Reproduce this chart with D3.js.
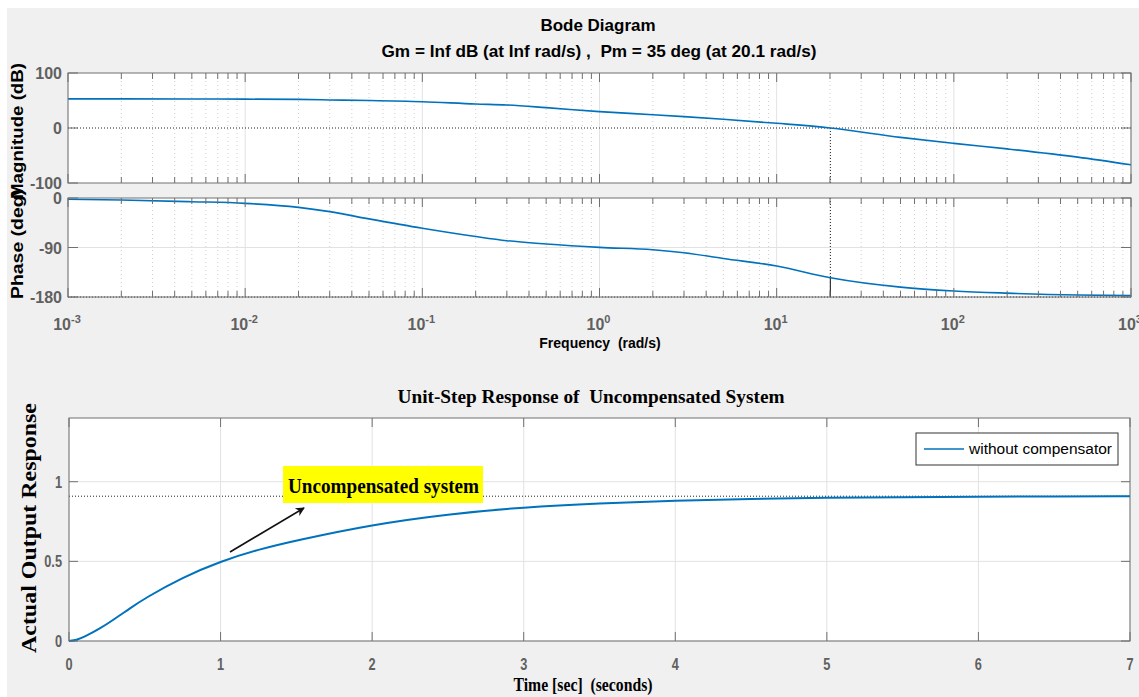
<!DOCTYPE html>
<html>
<head>
<meta charset="utf-8">
<script src="https://d3js.org/d3.v7.min.js"></script>
<style>
  body { margin: 0; background: #fff; }
  text { font-family: "Liberation Sans", Arial, sans-serif; }
  .serif { font-family: "Liberation Serif", "Times New Roman", serif; font-weight: bold; }
</style>
</head>
<body>
<script>
/* jshint esversion:6 */

// ---- data ----
const bodeFreq  = [0.001, 0.002, 0.005, 0.01, 0.02, 0.03, 0.05, 0.1, 0.2, 0.3, 0.5, 1, 2, 3, 5, 10, 20.1, 50, 100, 200, 500, 1000];
const bodeMag   = [53, 53, 52.8, 52.5, 52, 51, 50, 47.8, 43.6, 41.8, 37, 29.7, 24.2, 20.6, 15.8, 8.5, 0, -17, -27.9, -38, -53, -67];
const bodePhase = [-2.4, -3.6, -6.7, -9.7, -17, -24.8, -38, -55, -70, -77.6, -83.6, -89.7, -94, -99.4, -110, -123.6, -145, -162, -169, -173, -176.5, -177.5];
const freqDecades = [1e-3, 1e-2, 1e-1, 1, 10, 100, 1000];
const decadeLabels = ["-3", "-2", "-1", "0", "1", "2", "3"];
const magTicks = [-100, 0, 100];
const phaseTicks = [-180, -90, 0];
const pmFreq = 20.1;
const pmPhase = -145;

const stepTime   = [0, 0.05, 0.1, 0.2, 0.3, 0.4, 0.5, 0.75, 1, 1.25, 1.5, 2, 2.5, 3, 3.5, 4, 4.5, 5, 5.5, 6, 6.5, 7];
const stepOutput = [0, 0.006, 0.025, 0.075, 0.137, 0.204, 0.268, 0.4, 0.5, 0.575, 0.632, 0.731, 0.797, 0.84, 0.865, 0.882, 0.893, 0.899, 0.903, 0.906, 0.908, 0.909];
const stepXTicks = [0, 1, 2, 3, 4, 5, 6, 7];
const stepYTicks = [0, 0.5, 1];
const steadyState = 0.909;

const styles = {
  line: "#0072bd",
  box: "#707070",
  tickText: "#606060",
  grid: "#e2e2e2",
  minorGrid: "#cfcfcf",
  bg: "#f0f0f0"
};

const svg = d3.select("body").append("svg")
  .attr("width", 1139)
  .attr("height", 697);

svg.append("rect").attr("width", 1139).attr("height", 697).attr("fill", "#fff");
svg.append("rect").attr("x", 7).attr("y", 8).attr("width", 1132).attr("height", 689).attr("fill", styles.bg);

// ---- Bode ----
const x = d3.scaleLog().domain([1e-3, 1e3]).range([68, 1131]);
const yMag = d3.scaleLinear().domain([-100, 100]).range([183, 73]);
const yPhase = d3.scaleLinear().domain([-180, 0]).range([297, 198]);

const minorFreq = [];
freqDecades.slice(0, -1).forEach(function(d) {
  for (let k = 2; k <= 9; k++) minorFreq.push(d * k);
});

function drawBodeAxes(yScale, ticks, gridTicks) {
  const g = svg.append("g");
  const [y0, y1] = yScale.range();
  g.append("rect")
    .attr("x", x.range()[0]).attr("y", y1)
    .attr("width", x.range()[1] - x.range()[0]).attr("height", y0 - y1)
    .attr("fill", "#fff");

  g.selectAll(".minorGrid").data(minorFreq).enter().append("line")
    .attr("x1", d => x(d)).attr("x2", d => x(d))
    .attr("y1", y1).attr("y2", y0)
    .attr("stroke", styles.minorGrid).attr("stroke-dasharray", "1,3");

  g.selectAll(".majorGrid").data(freqDecades).enter().append("line")
    .attr("x1", d => x(d)).attr("x2", d => x(d))
    .attr("y1", y1).attr("y2", y0)
    .attr("stroke", styles.grid);

  g.selectAll(".hGrid").data(gridTicks).enter().append("line")
    .attr("x1", x.range()[0]).attr("x2", x.range()[1])
    .attr("y1", d => yScale(d)).attr("y2", d => yScale(d))
    .attr("stroke", styles.grid);

  return g;
}

function drawBodeFrame(g, yScale, ticks) {
  const [y0, y1] = yScale.range();
  const [xa, xb] = x.range();
  const tickData = minorFreq.map(d => ({f: d, len: 6})).concat(freqDecades.map(d => ({f: d, len: 9})));
  [y0, y1].forEach(function(yy, i) {
    g.selectAll(".xt" + i).data(tickData).enter().append("line")
      .attr("x1", d => x(d.f)).attr("x2", d => x(d.f))
      .attr("y1", yy).attr("y2", d => i === 0 ? yy - d.len : yy + d.len)
      .attr("stroke", styles.box);
  });
  [xa, xb].forEach(function(xx, i) {
    g.selectAll(".yt" + i).data(ticks).enter().append("line")
      .attr("x1", xx).attr("x2", i === 0 ? xx + 10 : xx - 10)
      .attr("y1", d => yScale(d)).attr("y2", d => yScale(d))
      .attr("stroke", styles.box);
  });
  g.append("rect")
    .attr("x", xa).attr("y", y1)
    .attr("width", xb - xa).attr("height", y0 - y1)
    .attr("fill", "none").attr("stroke", styles.box);

  g.selectAll(".ylab").data(ticks).enter().append("text")
    .attr("x", xa - 6).attr("y", d => yScale(d) + 6)
    .attr("text-anchor", "end")
    .attr("font-size", 16).attr("font-weight", "bold")
    .attr("fill", styles.tickText)
    .text(d => d);
}

// magnitude
const gMag = drawBodeAxes(yMag, magTicks, []);
gMag.append("line")
  .attr("x1", x.range()[0]).attr("x2", x.range()[1])
  .attr("y1", yMag(0)).attr("y2", yMag(0))
  .attr("stroke", "#222").attr("stroke-dasharray", "1,2");
gMag.append("line")
  .attr("x1", x(pmFreq)).attr("x2", x(pmFreq))
  .attr("y1", yMag(0)).attr("y2", yMag(-100))
  .attr("stroke", "#222").attr("stroke-dasharray", "1,2");
gMag.append("path")
  .datum(d3.zip(bodeFreq, bodeMag))
  .attr("fill", "none").attr("stroke", styles.line).attr("stroke-width", 1.6)
  .attr("d", d3.line().x(d => x(d[0])).y(d => yMag(d[1])).curve(d3.curveMonotoneX));
drawBodeFrame(gMag, yMag, magTicks);

// phase
const gPh = drawBodeAxes(yPhase, phaseTicks, [-90]);
gPh.append("line")
  .attr("x1", x.range()[0]).attr("x2", x.range()[1])
  .attr("y1", yPhase(-180)).attr("y2", yPhase(-180))
  .attr("stroke", "#222").attr("stroke-dasharray", "1,2");
gPh.append("line")
  .attr("x1", x(pmFreq)).attr("x2", x(pmFreq))
  .attr("y1", yPhase(0)).attr("y2", yPhase(pmPhase))
  .attr("stroke", "#222").attr("stroke-dasharray", "1,2");
gPh.append("line")
  .attr("x1", x(pmFreq)).attr("x2", x(pmFreq))
  .attr("y1", yPhase(pmPhase)).attr("y2", yPhase(-180))
  .attr("stroke", "#333").attr("stroke-width", 1.2);
gPh.append("path")
  .datum(d3.zip(bodeFreq, bodePhase))
  .attr("fill", "none").attr("stroke", styles.line).attr("stroke-width", 1.6)
  .attr("d", d3.line().x(d => x(d[0])).y(d => yPhase(d[1])).curve(d3.curveMonotoneX));
drawBodeFrame(gPh, yPhase, phaseTicks);

// decade labels
const decLab = svg.selectAll(".dec").data(freqDecades).enter().append("text")
  .attr("x", d => x(d) - 1)
  .attr("y", 330)
  .attr("text-anchor", "middle")
  .attr("font-size", 16).attr("font-weight", "bold")
  .attr("fill", styles.tickText);
decLab.append("tspan").text("10");
decLab.append("tspan")
  .attr("dy", -7).attr("font-size", 11)
  .text((d, i) => decadeLabels[i]);

svg.append("text")
  .attr("x", 600).attr("y", 348)
  .attr("text-anchor", "middle")
  .attr("font-size", 14).attr("font-weight", "bold")
  .attr("xml:space", "preserve")
  .text("Frequency  (rad/s)");

svg.append("text")
  .attr("transform", "translate(23,244) rotate(-90)")
  .attr("text-anchor", "middle")
  .attr("font-size", 16).attr("font-weight", "bold")
  .attr("textLength", 110).attr("lengthAdjust", "spacingAndGlyphs")
  .text("Phase (deg)");
svg.append("text")
  .attr("transform", "translate(23,131) rotate(-90)")
  .attr("text-anchor", "middle")
  .attr("font-size", 16).attr("font-weight", "bold")
  .attr("textLength", 136).attr("lengthAdjust", "spacingAndGlyphs")
  .text("Magnitude (dB)");

svg.append("text")
  .attr("x", 598).attr("y", 31)
  .attr("text-anchor", "middle")
  .attr("font-size", 17).attr("font-weight", "bold")
  .attr("textLength", 115).attr("lengthAdjust", "spacingAndGlyphs")
  .text("Bode Diagram");
svg.append("text")
  .attr("x", 599).attr("y", 57)
  .attr("text-anchor", "middle")
  .attr("font-size", 17).attr("font-weight", "bold")
  .attr("xml:space", "preserve")
  .attr("textLength", 435).attr("lengthAdjust", "spacingAndGlyphs")
  .text("Gm = Inf dB (at Inf rad/s) ,  Pm = 35 deg (at 20.1 rad/s)");

// ---- step response ----
const xs = d3.scaleLinear().domain([0, 7]).range([69, 1130]);
const ys = d3.scaleLinear().domain([0, 1.4]).range([641, 418]);

const gs = svg.append("g");
gs.append("rect")
  .attr("x", xs(0)).attr("y", ys(1.4))
  .attr("width", xs(7) - xs(0)).attr("height", ys(0) - ys(1.4))
  .attr("fill", "#fff");
gs.selectAll(".vg").data(stepXTicks).enter().append("line")
  .attr("x1", d => xs(d)).attr("x2", d => xs(d))
  .attr("y1", ys(1.4)).attr("y2", ys(0))
  .attr("stroke", styles.grid);
gs.selectAll(".hg").data(stepYTicks).enter().append("line")
  .attr("x1", xs(0)).attr("x2", xs(7))
  .attr("y1", d => ys(d)).attr("y2", d => ys(d))
  .attr("stroke", styles.grid);
gs.selectAll(".bt").data(stepXTicks).enter().append("line")
  .attr("x1", d => xs(d)).attr("x2", d => xs(d))
  .attr("y1", ys(0)).attr("y2", ys(0) - 9)
  .attr("stroke", styles.box);
gs.selectAll(".tt").data(stepXTicks).enter().append("line")
  .attr("x1", d => xs(d)).attr("x2", d => xs(d))
  .attr("y1", ys(1.4)).attr("y2", ys(1.4) + 9)
  .attr("stroke", styles.box);
gs.selectAll(".lt").data(stepYTicks).enter().append("line")
  .attr("x1", xs(0)).attr("x2", xs(0) + 9)
  .attr("y1", d => ys(d)).attr("y2", d => ys(d))
  .attr("stroke", styles.box);
gs.selectAll(".rt").data(stepYTicks).enter().append("line")
  .attr("x1", xs(7)).attr("x2", xs(7) - 9)
  .attr("y1", d => ys(d)).attr("y2", d => ys(d))
  .attr("stroke", styles.box);

gs.append("line")
  .attr("x1", xs(0)).attr("x2", xs(7))
  .attr("y1", ys(steadyState)).attr("y2", ys(steadyState))
  .attr("stroke", "#222").attr("stroke-dasharray", "1,2");

gs.append("path")
  .datum(d3.zip(stepTime, stepOutput))
  .attr("fill", "none").attr("stroke", styles.line).attr("stroke-width", 2)
  .attr("d", d3.line().x(d => xs(d[0])).y(d => ys(d[1])).curve(d3.curveBasis));

gs.append("rect")
  .attr("x", xs(0)).attr("y", ys(1.4))
  .attr("width", xs(7) - xs(0)).attr("height", ys(0) - ys(1.4))
  .attr("fill", "none").attr("stroke", styles.box);

gs.selectAll(".xl").data(stepXTicks).enter().append("text")
  .attr("x", d => xs(d)).attr("y", 670)
  .attr("text-anchor", "middle")
  .attr("font-size", 17).attr("font-weight", "bold")
  .attr("fill", styles.tickText)
  .attr("transform", d => "translate(" + xs(d) * 0.25 + ",0) scale(0.75,1)")
  .text(d => d);
gs.selectAll(".yl").data(stepYTicks).enter().append("text")
  .attr("x", 62).attr("y", d => ys(d) + 6)
  .attr("text-anchor", "end")
  .attr("font-size", 17).attr("font-weight", "bold")
  .attr("fill", styles.tickText)
  .attr("transform", "translate(15.5,0) scale(0.75,1)")
  .text(d => d);

// legend
const leg = gs.append("g");
leg.append("rect")
  .attr("x", 916).attr("y", 433).attr("width", 202).attr("height", 32)
  .attr("fill", "#fff").attr("stroke", "#333");
leg.append("line")
  .attr("x1", 924).attr("x2", 964).attr("y1", 449).attr("y2", 449)
  .attr("stroke", styles.line).attr("stroke-width", 1.5);
leg.append("text")
  .attr("x", 969).attr("y", 454)
  .attr("font-size", 14)
  .attr("textLength", 143).attr("lengthAdjust", "spacingAndGlyphs")
  .text("without compensator");

// annotation
gs.append("rect")
  .attr("x", 283).attr("y", 466).attr("width", 200).attr("height", 37)
  .attr("fill", "#ffff00");
gs.append("text")
  .attr("class", "serif")
  .attr("x", 288).attr("y", 493)
  .attr("font-size", 22)
  .attr("textLength", 191).attr("lengthAdjust", "spacingAndGlyphs")
  .text("Uncompensated system");

svg.append("defs").append("marker")
  .attr("id", "arrow")
  .attr("viewBox", "0 0 10 10")
  .attr("refX", 9).attr("refY", 5)
  .attr("markerWidth", 11).attr("markerHeight", 9)
  .attr("markerUnits", "userSpaceOnUse")
  .attr("orient", "auto")
  .append("path").attr("d", "M0,0 L10,5 L0,10 L3,5 Z").attr("fill", "#111");
gs.append("line")
  .attr("x1", 230).attr("y1", 552).attr("x2", 304).attr("y2", 508)
  .attr("stroke", "#111").attr("stroke-width", 1.6)
  .attr("marker-end", "url(#arrow)");

// titles
svg.append("text")
  .attr("class", "serif")
  .attr("x", 591).attr("y", 403)
  .attr("text-anchor", "middle")
  .attr("font-size", 19)
  .attr("xml:space", "preserve")
  .attr("textLength", 387).attr("lengthAdjust", "spacingAndGlyphs")
  .text("Unit-Step Response of  Uncompensated System");
svg.append("text")
  .attr("class", "serif")
  .attr("x", 583).attr("y", 691)
  .attr("text-anchor", "middle")
  .attr("font-size", 19)
  .attr("xml:space", "preserve")
  .attr("textLength", 139).attr("lengthAdjust", "spacingAndGlyphs")
  .text("Time [sec]  (seconds)");
svg.append("text")
  .attr("class", "serif")
  .attr("transform", "translate(36,528) rotate(-90)")
  .attr("text-anchor", "middle")
  .attr("font-size", 21)
  .attr("textLength", 250).attr("lengthAdjust", "spacingAndGlyphs")
  .text("Actual Output Response");
</script>
</body>
</html>
